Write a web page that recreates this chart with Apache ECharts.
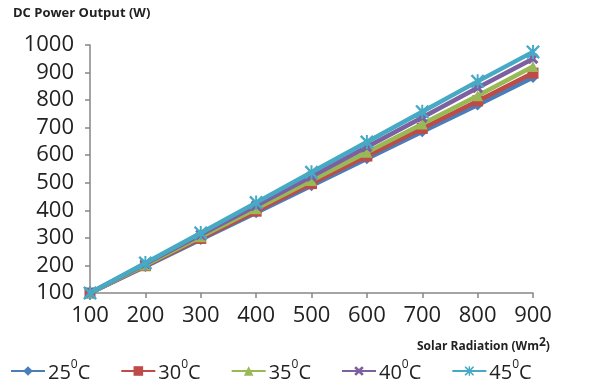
<!DOCTYPE html>
<html>
<head>
<meta charset="utf-8">
<script src="https://cdn.jsdelivr.net/npm/echarts@6/dist/echarts.min.js"></script>
<style>
  html, body { margin: 0; padding: 0; background: #fff; }
  #chart { width: 600px; height: 389px; }
</style>
</head>
<body>
<div id="chart"></div>
<script>
// solar radiation (W/m2) on the x axis
const radiation = [100, 200, 300, 400, 500, 600, 700, 800, 900];
const temps = ['25', '30', '35', '40', '45'];

// DC power output (W)
const t25 = [100, 196, 294, 391, 489, 587, 685, 782, 882];
const t30 = [100, 199, 298, 397, 497, 597, 697, 797, 898];
const t35 = [100, 202, 304, 406, 508, 611, 713, 816, 922];
const t40 = [100, 206, 311, 417, 523, 630, 737, 845, 950];
const t45 = [100, 209, 318, 428, 538, 648, 758, 868, 975];

const colors = ['#4a7ebb', '#be4b48', '#98b954', '#7d60a0', '#46aac5'];
const symbols = [
  'diamond',
  'rect',
  'triangle',
  'path://M0,2 L2,0 L5,3 L8,0 L10,2 L7,5 L10,8 L8,10 L5,7 L2,10 L0,8 L3,5 Z',
  'path://M4.3,0 L5.7,0 L5.7,10 L4.3,10 Z M0,1.2 L1.2,0 L5,3.8 L8.8,0 L10,1.2 L6.2,5 L10,8.8 L8.8,10 L5,6.2 L1.2,10 L0,8.8 L3.8,5 Z'
];
const allSeries = [t25, t30, t35, t40, t45];

const chart = echarts.init(document.getElementById('chart'));

const font = 'Open Sans';

chart.setOption({
  animation: false,
  textStyle: { fontFamily: font },
  grid: { left: 90, right: 67, top: 45, bottom: 96 },
  title: [
    {
      text: 'DC Power Output (W)',
      left: 8, top: 2,
      textStyle: { fontSize: 13, fontWeight: 'bold', color: '#222', fontFamily: font }
    },
    {
      text: '{a|Solar Radiation (Wm}{s|2}{a|)}',
      left: 412, top: 332,
      textStyle: {
        rich: {
          a: { fontSize: 12, fontWeight: 'bold', color: '#222', fontFamily: font, lineHeight: 16, verticalAlign: 'bottom' },
          s: { fontSize: 12, fontWeight: 'bold', color: '#222', fontFamily: font, lineHeight: 12, verticalAlign: 'top' }
        }
      }
    }
  ],
  legend: {
    left: 5, top: 354, padding: [5, 5, 5, 5],
    itemWidth: 34, itemHeight: 12, itemGap: 30,
    data: temps.map(t => t + 'C'),
    formatter: name => '{a|' + name.slice(0, 2) + '}{s|0}{a|C}',
    textStyle: {
      padding: [0, 0, 0, -2],
      rich: {
        a: { fontSize: 20, color: '#222', fontFamily: font, lineHeight: 24, verticalAlign: 'bottom' },
        s: { fontSize: 12, color: '#222', fontFamily: font, lineHeight: 12, verticalAlign: 'top' }
      }
    }
  },
  xAxis: {
    type: 'value',
    min: 100, max: 900, interval: 100,
    splitLine: { show: false },
    axisLine: { lineStyle: { color: '#868686', width: 1.5 } },
    axisTick: { show: true, length: 5, lineStyle: { color: '#868686', width: 1.5 } },
    axisLabel: { fontSize: 22, color: '#222', margin: 12, fontFamily: font, formatter: v => String(v) }
  },
  yAxis: {
    type: 'value',
    min: 100, max: 1000, interval: 100,
    splitLine: { show: false },
    axisLine: { show: true, lineStyle: { color: '#868686', width: 1.5 } },
    axisTick: { show: true, length: 5, lineStyle: { color: '#868686', width: 1.5 } },
    axisLabel: { fontSize: 22, color: '#222', margin: 16, fontFamily: font, formatter: v => String(v) }
  },
  series: allSeries.map((vals, i) => ({
    name: temps[i] + 'C',
    type: 'line',
    data: radiation.map((x, j) => [x, vals[j]]),
    color: colors[i],
    symbol: symbols[i],
    symbolSize: i === 4 ? 14 : 11,
    showAllSymbol: true,
    lineStyle: { width: 4.5, color: colors[i] },
    itemStyle: { color: colors[i] },
    z: 2 + i
  }))
});
</script>
</body>
</html>
